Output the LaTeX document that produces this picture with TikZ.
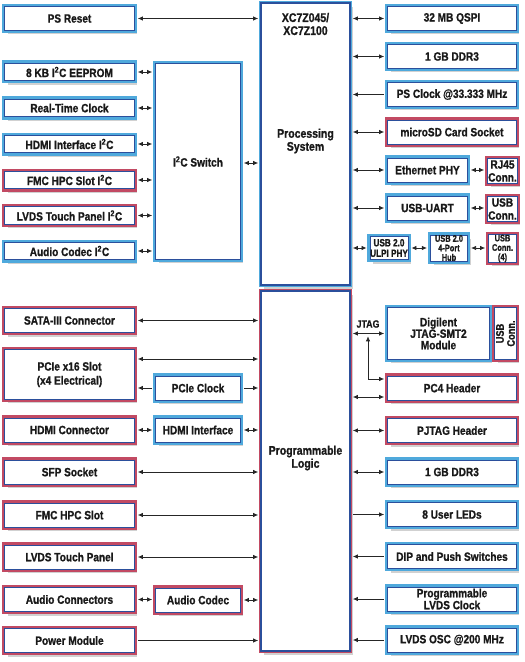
\documentclass[tikz,border=0pt]{standalone}
\usepackage{fontspec}
\setmainfont{Liberation Sans}[FakeStretch=0.84, BoldFeatures={FakeBold=1.0}]
\newfontfamily\narrowfont{Liberation Sans}[FakeStretch=0.78, BoldFeatures={FakeBold=1.0}]
\usetikzlibrary{arrows.meta,calc,shadows}
\definecolor{lblue}{HTML}{4FA9DC}
\definecolor{dblue}{HTML}{2B4F9C}
\definecolor{lred}{HTML}{C24A63}
\tikzset{
  base/.style={rectangle, fill=white, inner sep=0.5bp, align=center, outer sep=2.75bp,
    font=\fontsize{12bp}{13bp}\selectfont\bfseries, text=black!90,
    drop shadow={shadow xshift=3bp, shadow yshift=-4bp, opacity=0.18, fill=black}},
  bbox/.style={base, draw=dblue, line width=0.7bp, preaction={draw=lblue, line width=5.5bp}},
  rbox/.style={base, draw=dblue, line width=0.7bp, preaction={draw=lred, line width=5.5bp}},
  bigbox/.style={rectangle, fill=white, draw=dblue, line width=2.2bp, outer sep=2.25bp,
    drop shadow={shadow xshift=3bp, shadow yshift=-4bp, opacity=0.18, fill=black},
    preaction={draw=#1, line width=4.5bp}},
  lbl/.style={align=center, inner sep=0pt, font=\fontsize{12.5bp}{13bp}\selectfont\bfseries, text=black!90},
  L/.style={minimum width=129.5bp},
  R/.style={minimum width=128.5bp},
  H/.style={minimum height=24bp},
  S/.style={minimum height=17.5bp},
  small/.style={inner sep=0pt, font=\narrowfont\fontsize{9.5bp}{9.5bp}\selectfont\bfseries},
  arr/.style={line width=0.8bp, black!85, shorten >=0.8bp, shorten <=0.8bp,
    >={Latex[length=5bp,width=4.5bp]}},
}
\begin{document}
\begin{tikzpicture}[x=1bp,y=-1bp]
\useasboundingbox (0,0) rectangle (525,662);
% central blocks
\node[bigbox=lblue, minimum width=88.5bp, minimum height=282bp] (ps) at (305.5,144) {};
\node[bigbox=lred, minimum width=88.5bp, minimum height=359.5bp] (pl) at (305.5,471) {};
\node[lbl] (pstitle) at (305.5,24) {XC7Z045/\\XC7Z100};
\node[lbl] (psname) at (305.5,141) {Processing\\System};
\node[lbl] (plname) at (305.5,458) {Programmable\\Logic};
% left top
\node[bbox,L,H] (psreset) at (69.5,18.5) {PS Reset};
\node[bbox,L,S] (eeprom) at (69.5,72) {8 KB I\textsuperscript{2}C EEPROM};
\node[bbox,L,S] (rtc) at (69.5,108) {Real-Time Clock};
\node[bbox,L,S] (hdmii2c) at (69.5,144) {HDMI Interface I\textsuperscript{2}C};
\node[rbox,L,S] (fmci2c) at (69.5,180) {FMC HPC Slot I\textsuperscript{2}C};
\node[rbox,L,S] (lvdsi2c) at (69.5,215.5) {LVDS Touch Panel I\textsuperscript{2}C};
\node[bbox,L,S] (audioi2c) at (69.5,251) {Audio Codec I\textsuperscript{2}C};
\node[bbox, minimum width=84.5bp, minimum height=195.5bp] (i2csw) at (198,161.5) {I\textsuperscript{2}C Switch};
% right top
\node[bbox,R,H] (qspi) at (452,18.5) {32 MB QSPI};
\node[bbox,R,H] (ddra) at (452,56.5) {1 GB DDR3};
\node[bbox,R,H] (psclk) at (452,94.5) {PS Clock @33.333 MHz};
\node[rbox,R,H] (microsd) at (452,132) {microSD Card Socket};
\node[bbox,H,minimum width=79.5bp] (eth) at (427.5,170) {Ethernet PHY};
\node[rbox,minimum width=27.5bp,minimum height=24.5bp] (rj45) at (502.5,171) {RJ45\\Conn.};
\node[bbox,H,minimum width=79.5bp] (uart) at (427.5,208) {USB-UART};
\node[rbox,minimum width=27.5bp,minimum height=24.5bp] (usbc) at (502.5,209) {USB\\Conn.};
\node[bbox,minimum width=37bp,minimum height=23bp,inner sep=0pt,font=\narrowfont\fontsize{10.5bp}{10.5bp}\selectfont\bfseries] (ulpi) at (389,248) {USB 2.0\\ULPI PHY};
\node[bbox,small,minimum width=37bp,minimum height=23bp] (hub) at (449,248) {USB 2.0\\4-Port\\Hub};
\node[rbox,small,minimum width=27.5bp,minimum height=23bp] (usbcf) at (502.5,248.5) {USB\\Conn.\\(4)};
% left bottom
\node[rbox,L,H] (sata) at (69.5,320.5) {SATA-III Connector};
\node[rbox,L,minimum height=49.5bp,font=\fontsize{12bp}{14bp}\selectfont\bfseries] (pcie) at (69.5,374.5) {PCIe x16 Slot\\(x4 Electrical)};
\node[bbox,H,minimum width=84.5bp] (pcieclk) at (198,388) {PCIe Clock};
\node[rbox,L,H] (hdmic) at (69.5,430) {HDMI Connector};
\node[bbox,H,minimum width=84.5bp] (hdmiif) at (198,430) {HDMI Interface};
\node[rbox,L,H] (sfp) at (69.5,472) {SFP Socket};
\node[rbox,L,H] (fmc) at (69.5,515) {FMC HPC Slot};
\node[rbox,L,H] (lvds) at (69.5,557) {LVDS Touch Panel};
\node[rbox,L,H] (audioc) at (69.5,599.5) {Audio Connectors};
\node[rbox,H,minimum width=84.5bp] (codec) at (198,600) {Audio Codec};
\node[rbox,L,H] (power) at (69.5,640.5) {Power Module};
% right bottom
\node[bbox,minimum width=101.5bp,minimum height=51.5bp,font=\fontsize{12bp}{11.5bp}\selectfont\bfseries] (dig) at (438.5,333.5) {Digilent\\JTAG-SMT2\\Module};
\node[rbox,minimum width=21.5bp,minimum height=51.5bp,font=\fontsize{11bp}{11bp}\selectfont\bfseries] (usbv) at (505.5,333.5) {\rotatebox{90}{\parbox{40bp}{\centering USB\\Conn.}}};
\node[rbox,R,H] (pc4) at (452,388) {PC4 Header};
\node[rbox,R,H] (pjtag) at (452,430.5) {PJTAG Header};
\node[bbox,R,H] (ddrb) at (452,472) {1 GB DDR3};
\node[bbox,R,H] (leds) at (452,514.5) {8 User LEDs};
\node[bbox,R,H] (dip) at (452,556.5) {DIP and Push Switches};
\node[bbox,R,H,font=\fontsize{12bp}{12bp}\selectfont\bfseries] (lvdsclk) at (452,599) {Programmable\\LVDS Clock};
\node[bbox,R,H] (osc) at (452,640) {LVDS OSC @200 MHz};
\node[lbl,font=\fontsize{10.5bp}{11bp}\selectfont\bfseries] (jtaglbl) at (368,324) {JTAG};
% connectors: left top
\draw[arr,<->] (psreset.east) -- (psreset.east -| ps.west);
\foreach \n in {eeprom,rtc,hdmii2c,fmci2c,lvdsi2c,audioi2c}
  \draw[arr,<->] (\n.east) -- (\n.east -| i2csw.west);
\draw[arr,<->] ([yshift=-1.5bp]i2csw.east) coordinate (swt) -- (swt -| ps.west);
% right top
\foreach \n in {qspi,ddra,microsd,eth,uart}
  \draw[arr,<->] (\n.west) -- (\n.west -| ps.east);
\draw[arr,->] (psclk.west) -- (psclk.west -| ps.east);
\draw[arr,<->] (eth.east) -- (eth.east -| rj45.west);
\draw[arr,<->] (uart.east) -- (uart.east -| usbc.west);
\draw[arr,<->] (ulpi.west) -- (ulpi.west -| ps.east);
\draw[arr,<->] (ulpi.east) -- (ulpi.east -| hub.west);
\draw[arr,<->] (hub.east) -- (hub.east -| usbcf.west);
% left bottom
\foreach \n in {sata,sfp,fmc,lvds}
  \draw[arr,<->] (\n.east) -- (\n.east -| pl.west);
\draw[arr,<->] ([yshift=15.5bp]pcie.east) coordinate (pct) -- (pct -| pl.west);
\draw[arr,->] (pcieclk.west) -- (pcieclk.west -| pcie.east);
\draw[arr,->] (pcieclk.east) -- (pcieclk.east -| pl.west);
\draw[arr,<->] (hdmic.east) -- (hdmic.east -| hdmiif.west);
\draw[arr,<->] (hdmiif.east) -- (hdmiif.east -| pl.west);
\draw[arr,<->] (audioc.east) -- (audioc.east -| codec.west);
\draw[arr,<->] (codec.east) -- (codec.east -| pl.west);
\draw[arr,->] (power.east) -- (power.east -| pl.west);
% right bottom
\draw[arr,<->] (dig.west) -- (dig.west -| pl.east);
\coordinate (jtap) at (368,335.5);
\draw[arr,<->] (jtap) |- ([yshift=9bp]pc4.west);
\draw[arr,<->] ([yshift=-9bp]pc4.west) coordinate (pc4t) -- (pc4t -| pl.east);
\foreach \n in {pjtag,ddrb}
  \draw[arr,<->] (\n.west) -- (\n.west -| pl.east);
\draw[arr,<-] (leds.west) -- (leds.west -| pl.east);
\foreach \n in {dip,lvdsclk,osc}
  \draw[arr,->] (\n.west) -- (\n.west -| pl.east);
\end{tikzpicture}
\end{document}
